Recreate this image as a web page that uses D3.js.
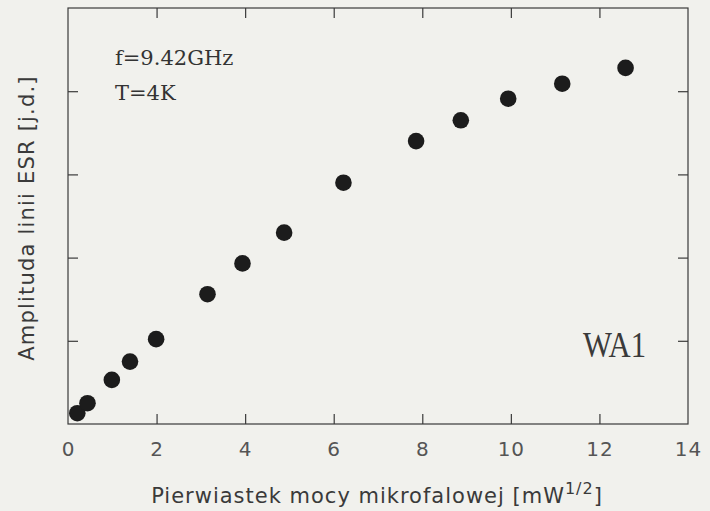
<!DOCTYPE html>
<html>
<head>
<meta charset="utf-8">
<script src="https://d3js.org/d3.v7.min.js"></script>
<style>
  body { margin: 0; background: #f1f1ed; }
  svg { display: block; }
</style>
</head>
<body>
<div id="chart"></div>
<script>
// square root of microwave power [mW^1/2]
var sqrtPower = [0.21, 0.44, 0.99, 1.40, 1.99, 3.15, 3.94, 4.88, 6.22, 7.86, 8.87, 9.94, 11.16, 12.59];
// ESR line amplitude [arb. units]
var amplitude = [0.13, 0.25, 0.53, 0.75, 1.02, 1.56, 1.93, 2.30, 2.90, 3.40, 3.65, 3.91, 4.09, 4.28];

var xTicks = [0, 2, 4, 6, 8, 10, 12, 14];
var yTicks = [1, 2, 3, 4];

var width = 710, height = 511;
var margin = {left: 68, right: 22, top: 8, bottom: 87};

var svg = d3.select("#chart").append("svg")
    .attr("width", width)
    .attr("height", height);

var x = d3.scaleLinear().domain([0, 14]).range([margin.left, width - margin.right]);
var y = d3.scaleLinear().domain([0, 5]).range([height - margin.bottom, margin.top]);

var ink = "#3a3a3a";
var sans = "'DejaVu Sans', sans-serif";
var serif = "'DejaVu Serif', serif";

//frame
svg.append("rect")
    .attr("x", x(0)).attr("y", y(5))
    .attr("width", x(14) - x(0)).attr("height", y(0) - y(5))
    .attr("fill", "none")
    .attr("stroke", ink)
    .attr("stroke-width", 1.2);

//ticks pointing inward on all four sides
var tickLen = 10;
var tickStyle = function(g) {
    g.select(".domain").remove();
    g.selectAll(".tick line").attr("stroke", ink).attr("stroke-width", 1.2);
};

svg.append("g")
    .attr("transform", "translate(0," + y(0) + ")")
    .call(d3.axisBottom(x).tickValues(xTicks).tickSize(-tickLen).tickPadding(18).tickFormat(d3.format("d")))
    .call(tickStyle)
    .call(function(g) {
        g.selectAll(".tick text")
            .attr("fill", "#555")
            .style("font-family", sans)
            .style("font-size", "20px")
            .style("letter-spacing", "1px");
        g.selectAll(".tick line").filter(function(d) { return d === 0 || d === 14; }).remove();
    });

svg.append("g")
    .attr("transform", "translate(0," + y(5) + ")")
    .call(d3.axisTop(x).tickValues(xTicks.slice(1, -1)).tickSize(-tickLen).tickFormat(""))
    .call(tickStyle);

svg.append("g")
    .attr("transform", "translate(" + x(0) + ",0)")
    .call(d3.axisLeft(y).tickValues(yTicks).tickSize(-tickLen).tickFormat(""))
    .call(tickStyle);

svg.append("g")
    .attr("transform", "translate(" + x(14) + ",0)")
    .call(d3.axisRight(y).tickValues(yTicks).tickSize(-tickLen).tickFormat(""))
    .call(tickStyle);

//data points
svg.selectAll(".point")
    .data(sqrtPower)
    .enter().append("circle")
    .attr("class", "point")
    .attr("cx", function(d) { return x(d); })
    .attr("cy", function(d, i) { return y(amplitude[i]); })
    .attr("r", 8.3)
    .attr("fill", "#1c1c1c");

//axis titles
var xLabel = svg.append("text")
    .attr("x", 377).attr("y", 503)
    .attr("text-anchor", "middle")
    .attr("fill", "#3a3a3a")
    .style("font-family", sans)
    .style("font-size", "21px")
    .style("letter-spacing", "1px")
    .text("Pierwiastek mocy mikrofalowej [mW");
xLabel.append("tspan")
    .attr("dy", -9)
    .style("font-size", "16px")
    .text("1/2");
xLabel.append("tspan")
    .attr("dy", 9)
    .text("]");

svg.append("text")
    .attr("transform", "translate(34,218) rotate(-90)")
    .attr("text-anchor", "middle")
    .attr("fill", "#3a3a3a")
    .style("font-family", sans)
    .style("font-size", "21px")
    .style("letter-spacing", "1.2px")
    .text("Amplituda linii ESR [j.d.]");

//annotations
svg.append("text")
    .attr("x", 115).attr("y", 65)
    .attr("fill", "#333")
    .style("font-family", serif)
    .style("font-size", "21px")
    .text("f=9.42GHz");

svg.append("text")
    .attr("x", 115).attr("y", 100)
    .attr("fill", "#333")
    .style("font-family", serif)
    .style("font-size", "21px")
    .text("T=4K");

svg.append("text")
    .attr("x", 583).attr("y", 357)
    .attr("fill", "#3a3a3a")
    .attr("textLength", 63)
    .attr("lengthAdjust", "spacingAndGlyphs")
    .style("font-family", "'Liberation Serif', serif")
    .style("font-size", "36px")
    .text("WA1");
</script>
</body>
</html>
